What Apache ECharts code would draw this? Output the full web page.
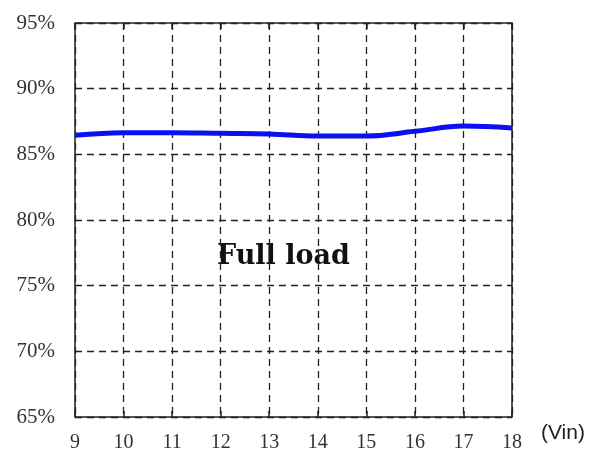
<!DOCTYPE html>
<html>
<head>
<meta charset="utf-8">
<script src="https://cdn.jsdelivr.net/npm/echarts@6/dist/echarts.min.js"></script>
<style>html,body{margin:0;padding:0;background:#fff;}#c{width:612px;height:459px;}</style>
</head>
<body>
<div id="c"></div>
<script>
var vin = [9, 10, 11, 12, 13, 14, 15, 16, 17, 18];
var efficiency = [86.45, 86.65, 86.65, 86.6, 86.55, 86.4, 86.4, 86.75, 87.15, 87.0];
var yTicks = [65, 70, 75, 80, 85, 90, 95];
var xTicks = vin;
var annotation = 'Full load';
var xUnit = '(Vin)';

var chart = echarts.init(document.getElementById('c'));
var serif = '"Liberation Serif", "DejaVu Serif", serif';
chart.setOption({
  animation: false,
  backgroundColor: '#fff',
  grid: {left: 75, right: 100, top: 23, bottom: 42, show: true, borderColor: '#222', borderWidth: 1.5},
  xAxis: [{
    type: 'value', min: xTicks[0], max: xTicks[xTicks.length - 1], interval: 1,
    axisLine: {show: false},
    axisTick: {show: true, inside: true, length: 6, lineStyle: {color: '#222', width: 1.5}},
    axisLabel: {color: '#333', fontFamily: serif, fontSize: 20, margin: 16},
    splitLine: {show: true, lineStyle: {color: '#222', type: [7, 5], width: 1.3}}
  }, {
    type: 'value', position: 'top', min: xTicks[0], max: xTicks[xTicks.length - 1], interval: 1,
    axisLine: {show: false},
    axisTick: {show: true, inside: true, length: 6, lineStyle: {color: '#222', width: 1.5}},
    axisLabel: {show: false}, splitLine: {show: false}
  }],
  yAxis: {
    type: 'value', min: yTicks[0], max: yTicks[yTicks.length - 1], interval: 5,
    axisLine: {show: false}, axisTick: {show: false},
    axisLabel: {color: '#333', fontFamily: serif, fontSize: 21, margin: 20, formatter: '{value}%'},
    splitLine: {show: true, lineStyle: {color: '#222', type: [7, 5], width: 1.3}}
  },
  graphic: [
    {type: 'text', left: 217, top: 243, style: {text: annotation, fontFamily: '"DejaVu Serif", serif', fontWeight: 'bold', fontSize: 27, fill: '#111'}},
    {type: 'text', left: 541, top: 423, style: {text: xUnit, fontFamily: '"Liberation Sans", Arial, sans-serif', fontSize: 21, fill: '#222'}}
  ],
  series: [{
    type: 'line', smooth: 0.4, symbol: 'none', xAxisIndex: 0,
    data: vin.map(function (v, i) { return [v, efficiency[i]]; }),
    lineStyle: {color: '#0a10f0', width: 5}
  }]
});
</script>
</body>
</html>
